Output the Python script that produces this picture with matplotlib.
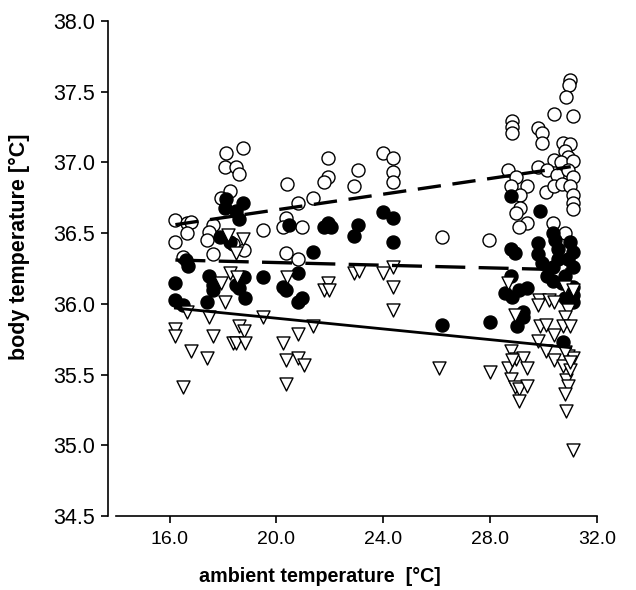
import numpy as np
import matplotlib.pyplot as plt

plt.rcParams['font.family'] = ['Liberation Sans', 'DejaVu Sans']

# open circles (upper group)
open_x = [18.13, 18.73, 18.06, 18.47, 18.58, 18.28, 17.91, 16.22, 16.67, 16.79,
          16.67, 16.22, 17.64, 17.46, 17.42, 18.39, 18.77, 16.52, 17.61, 19.48,
          20.41, 20.82, 21.35, 21.94, 21.91, 21.76, 23.03, 22.88, 24.00, 24.37,
          24.37, 24.37, 20.34, 20.26, 20.97, 20.34, 20.79, 26.17,
          27.96, 30.99, 30.95, 30.84, 30.36, 31.07, 28.79, 28.79, 28.79, 29.79,
          29.91, 29.91, 30.73, 30.99, 30.80, 30.88, 30.36, 30.65, 31.10, 28.67,
          28.97, 29.76, 30.13, 30.47, 30.88, 31.10, 28.75, 29.38, 29.12, 30.06,
          30.36, 30.69, 30.99, 31.07, 29.12, 31.07, 31.07, 28.97, 29.38, 29.05,
          30.32, 30.80]
open_y = [37.07, 37.10, 36.97, 36.97, 36.92, 36.80, 36.75, 36.59, 36.57, 36.58,
          36.50, 36.44, 36.56, 36.51, 36.45, 36.42, 36.38, 36.33, 36.35, 36.52,
          36.85, 36.71, 36.75, 37.03, 36.90, 36.86, 36.95, 36.83, 37.07, 37.03,
          36.93, 36.86, 36.61, 36.54, 36.54, 36.36, 36.32, 36.47,
          36.45, 37.58, 37.55, 37.46, 37.34, 37.33, 37.29, 37.25, 37.21, 37.24,
          37.21, 37.14, 37.14, 37.13, 37.08, 37.04, 37.02, 37.00, 37.01, 36.95,
          36.90, 36.97, 36.95, 36.91, 36.95, 36.90, 36.83, 36.83, 36.77, 36.79,
          36.83, 36.85, 36.83, 36.77, 36.68, 36.71, 36.67, 36.64, 36.57, 36.54,
          36.57, 36.50]

# filled circles (middle group)
filled_x = [18.06, 18.73, 18.47, 18.58, 18.13, 17.87, 18.28, 21.35, 16.71, 16.60,
            16.22, 17.46, 17.64, 17.61, 18.47, 18.58, 18.77, 19.48, 20.82, 20.26,
            20.34, 18.84, 16.22, 16.52, 17.42, 20.79, 20.97,
            20.45, 21.91, 21.76, 22.02, 23.03, 22.88, 24.00, 24.37, 24.37, 26.17,
            28.00, 28.75, 29.87, 28.75, 28.93, 29.79, 29.79, 30.32, 30.43, 30.54,
            30.99, 31.07, 29.94, 30.32, 30.13, 30.54, 30.88, 31.07, 30.80, 30.32,
            30.69, 31.07, 28.75, 28.56, 28.82, 29.05, 29.35, 29.20, 29.23, 29.01,
            31.07, 31.07, 30.80, 30.73]
filled_y = [36.68, 36.71, 36.66, 36.60, 36.74, 36.47, 36.44, 36.37, 36.27, 36.31,
            36.15, 36.20, 36.13, 36.10, 36.13, 36.11, 36.19, 36.19, 36.22, 36.12,
            36.10, 36.04, 36.03, 35.99, 36.01, 36.01, 36.04,
            36.56, 36.57, 36.54, 36.54, 36.56, 36.48, 36.65, 36.61, 36.44, 35.85,
            35.87, 36.76, 36.66, 36.39, 36.36, 36.43, 36.35, 36.50, 36.45, 36.39,
            36.44, 36.37, 36.29, 36.26, 36.20, 36.32, 36.32, 36.26, 36.20, 36.16,
            36.15, 36.12, 36.20, 36.08, 36.05, 36.10, 36.11, 35.94, 35.91, 35.84,
            36.06, 36.01, 36.04, 35.73]

# open triangles (lower group)
tri_x = [18.17, 18.73, 18.47, 18.28, 18.54, 17.91, 20.41, 21.91, 21.76, 21.98,
         18.09, 16.67, 17.46, 19.48, 21.35, 16.22, 16.22, 17.64, 18.58, 18.80,
         18.36, 18.50, 18.84, 20.26, 20.82, 16.79, 17.42, 20.34, 20.79, 21.01,
         16.52, 20.34,
         22.88, 23.07, 24.00, 24.37, 24.37, 24.37, 26.09,
         28.00, 28.67, 30.77, 31.07, 29.83, 29.76, 30.17, 30.36, 30.88, 30.80,
         28.93, 29.87, 30.09, 30.36, 30.73, 30.99, 29.76, 30.06, 30.36, 30.88,
         31.10, 28.75, 28.97, 29.20, 29.38, 28.64, 28.75, 28.93, 29.08, 29.38,
         29.05, 30.73, 30.84, 30.99, 30.88, 30.80, 30.84, 31.07, 28.82, 30.80,
         30.99]
tri_y = [36.49, 36.46, 36.36, 36.22, 36.19, 36.15, 36.19, 36.15, 36.10, 36.10,
         36.01, 35.94, 35.91, 35.91, 35.84, 35.82, 35.77, 35.77, 35.84, 35.81,
         35.72, 35.72, 35.72, 35.72, 35.79, 35.67, 35.62, 35.60, 35.62, 35.57,
         35.41, 35.43,
         36.22, 36.23, 36.22, 36.26, 36.12, 35.96, 35.55,
         35.52, 36.15, 36.12, 36.10, 36.03, 35.99, 36.03, 36.01, 35.96, 35.91,
         35.92, 35.84, 35.85, 35.78, 35.84, 35.84, 35.74, 35.67, 35.60, 35.63,
         35.62, 35.67, 35.61, 35.62, 35.55, 35.55, 35.47, 35.41, 35.40, 35.42,
         35.31, 35.56, 35.46, 35.53, 35.42, 35.36, 35.24, 34.97, 35.60, 35.66,
         35.59]

# regression lines: (start, end) of ambient temperature and body temperature
line_x = [16.22, 31.0]
open_line = [36.56, 36.97]
filled_line = [36.31, 36.24]
tri_line = [35.97, 35.69]

fig = plt.figure(figsize=(6.36, 5.9), dpi=100)
ax = fig.add_axes([0.1824, 0.1254, 0.757, 0.839])

ax.plot(line_x, open_line, color='black', lw=2.4, ls=(0, (7, 3.5)), zorder=3)
ax.plot(line_x, filled_line, color='black', lw=2.4, ls=(0, (9, 4)), zorder=3)
ax.plot(line_x, tri_line, color='black', lw=2.0, ls='-', zorder=3)

ax.scatter(open_x, open_y, s=88, facecolors='white', edgecolors='black',
           linewidths=1.0, marker='o', zorder=2)
ax.scatter(filled_x, filled_y, s=88, facecolors='black', edgecolors='black',
           linewidths=1.0, marker='o', zorder=2)
ax.scatter(tri_x, tri_y, s=88, facecolors='white', edgecolors='black',
           linewidths=1.0, marker='v', zorder=2)

ax.set_xlim(14, 32)
ax.set_ylim(34.5, 38.0)
ax.set_xticks([16, 20, 24, 28, 32])
ax.set_xticklabels(['16.0', '20.0', '24.0', '28.0', '32.0'])
ax.set_yticks(np.arange(34.5, 38.01, 0.5))
ax.set_yticklabels([f'{v:.1f}' for v in np.arange(34.5, 38.01, 0.5)])

ax.spines['top'].set_visible(False)
ax.spines['right'].set_visible(False)
ax.spines['left'].set_position(('outward', 6))
ax.spines['left'].set_linewidth(1.2)
ax.spines['bottom'].set_linewidth(1.2)
ax.tick_params(direction='out', length=5, width=1.2)
ax.tick_params(axis='x', labelsize=14, pad=6)
ax.tick_params(axis='y', labelsize=15.5, pad=4)

ax.set_xlabel('ambient temperature  [°C]', fontsize=14.2, fontweight='bold')
ax.set_ylabel('body temperature [°C]', fontsize=15.5, fontweight='bold')
ax.xaxis.set_label_coords(0.424, -0.103)
ax.yaxis.set_label_coords(-0.178, 0.543)

fig.savefig('out.png', dpi=100)
